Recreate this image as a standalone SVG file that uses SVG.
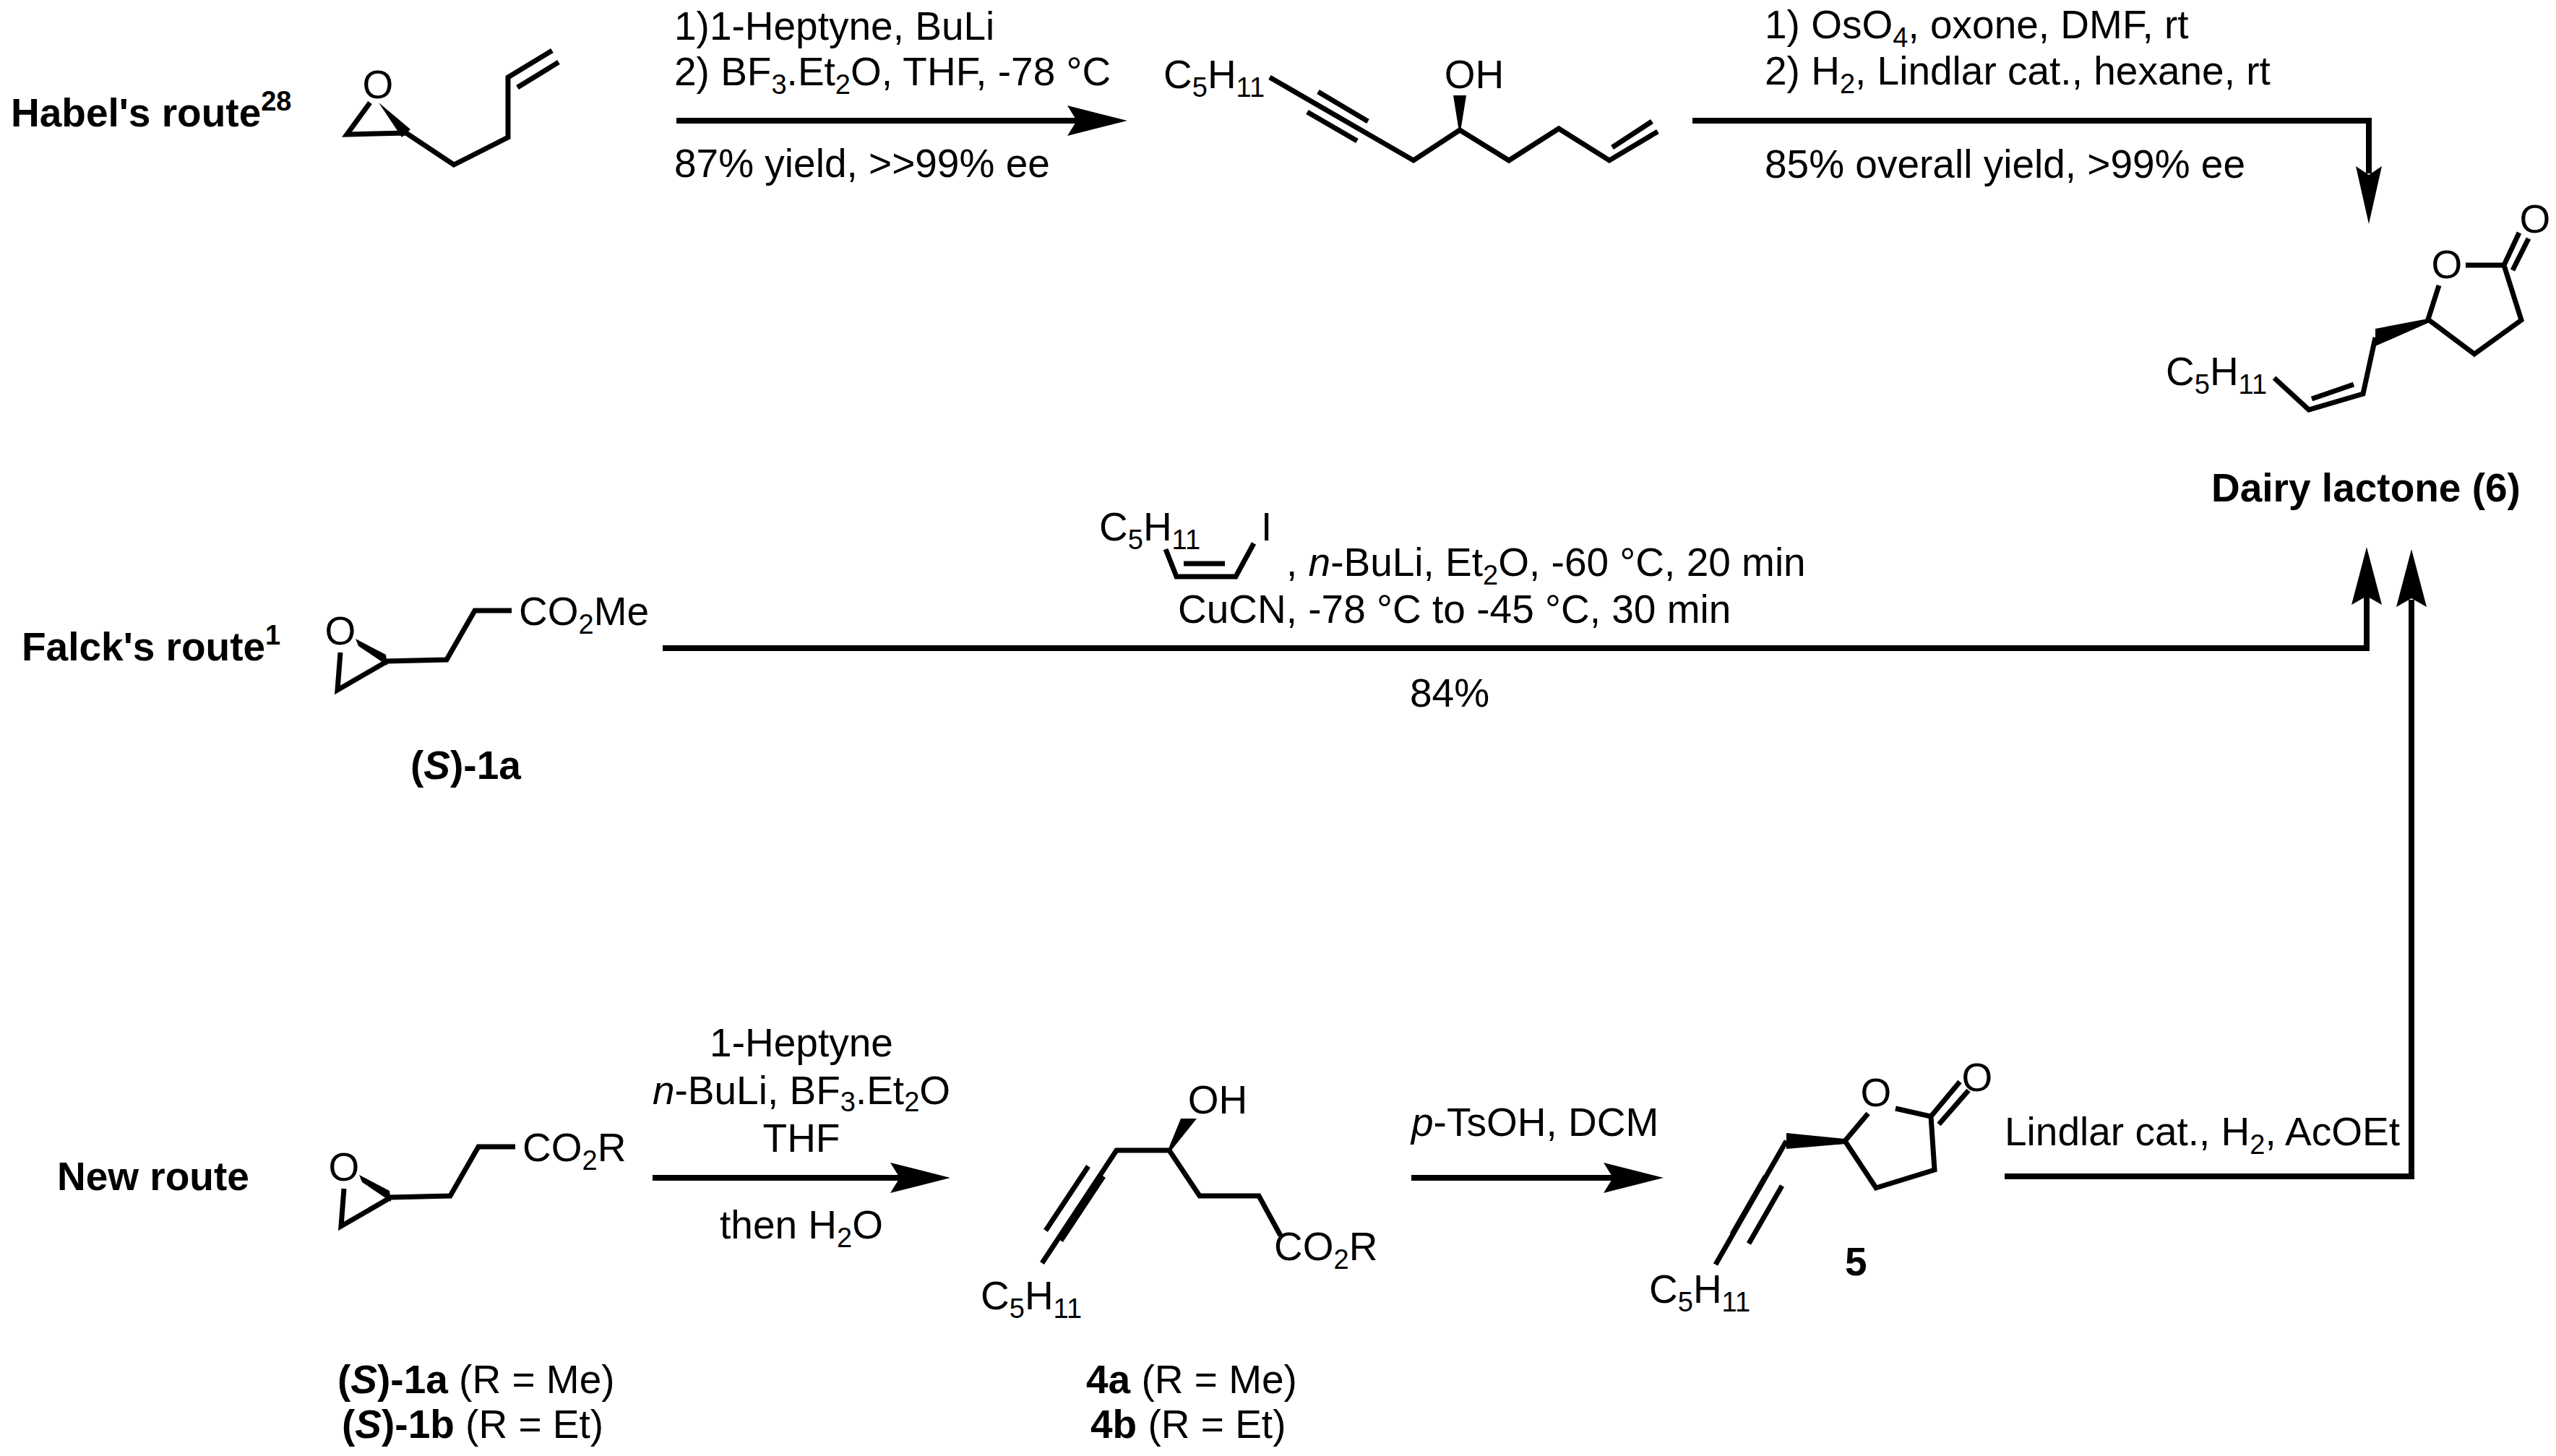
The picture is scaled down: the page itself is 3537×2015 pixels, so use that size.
<svg xmlns="http://www.w3.org/2000/svg" width="3537" height="2015" viewBox="0 0 3537 2015">
<style>
text{font-family:"Liberation Sans",Arial,sans-serif;font-size:55px;fill:#000}
.b{font-weight:bold}
.s{font-size:38px}
.bond{fill:none;stroke:#000;stroke-width:7;stroke-linejoin:miter;stroke-linecap:butt}
.arr{fill:none;stroke:#000;stroke-width:8}
.w{fill:#000}
</style>
<rect width="3537" height="2015" fill="#fff"/>

<!-- Labels -->
<g id="label-habel"><text class="b" x="15" y="175">Habel's route<tspan class="s" dy="-22">28</tspan></text></g>
<g id="label-falck"><text class="b" x="30" y="914">Falck's route<tspan class="s" dy="-22">1</tspan></text></g>
<g id="label-new"><text class="b" x="79" y="1647">New route</text></g>

<!-- Habel epoxide -->
<g id="habel-epoxide">
<text x="523" y="136" text-anchor="middle">O</text>
<path class="bond" d="M512,142 L480,186 L562,184 L628,228 L703,190 L703,107 L764,70 M716,121 L773,86"/>
<polygon class="w" points="524,142 556,190 568,179"/>
</g>

<!-- Habel intermediate -->
<g id="habel-intermediate">
<text x="1610" y="122">C<tspan class="s" dy="12">5</tspan><tspan dy="-12">H</tspan><tspan class="s" dy="12">11</tspan></text>
<text x="2040" y="122" text-anchor="middle">OH</text>
<path class="bond" d="M1757,107 L1956,222 L2020,180 L2088,222 L2157,178 L2227,222 L2294,182 M1824,127 L1893,168 M1809,155 L1878,195 M2231,204 L2286,168"/>
<polygon class="w" points="2011,132 2029,132 2021,182 2019,182"/>
</g>

<!-- Dairy lactone -->
<g id="dairy-lactone">
<text x="3386" y="385" text-anchor="middle">O</text>
<text x="3508" y="322" text-anchor="middle">O</text>
<path class="bond" d="M3412,367 L3465,367 L3489,443 L3424,490 L3360,442 L3375,395 M3465,367 L3486,322 M3477,374 L3499,330"/>
<polygon class="w" points="3360,441 3287,455 3287,479 3362,446"/>
<path class="bond" d="M3287,467 L3270,545 L3195,567 L3147,523 M3199,552 L3257,532"/>
<text x="2997" y="533">C<tspan class="s" dy="12">5</tspan><tspan dy="-12">H</tspan><tspan class="s" dy="12">11</tspan></text>
<text class="b" x="3060" y="694">Dairy lactone (6)</text>
</g>

<!-- Falck epoxide (S)-1a -->
<g id="falck-epoxide">
<text x="471" y="892" text-anchor="middle">O</text>
<path class="bond" d="M471,903 L467,955 L536,915 L618,913 L657,845 L708,845"/>
<polygon class="w" points="492,884 496,894 536,921 534,906"/>
<text x="718" y="865">CO<tspan class="s" dy="12">2</tspan><tspan dy="-12">Me</tspan></text>
<text class="b" x="568" y="1078">(<tspan font-style="italic">S</tspan>)-1a</text>
</g>

<!-- Vinyl iodide reagent -->
<g id="falck-reagent">
<text x="1521" y="748">C<tspan class="s" dy="12">5</tspan><tspan dy="-12">H</tspan><tspan class="s" dy="12">11</tspan></text>
<text x="1745" y="748">I</text>
<path class="bond" d="M1613,760 L1628,798 L1710,798 L1735,752 M1638,780 L1695,780"/>
<text x="1780" y="797">, <tspan font-style="italic">n</tspan>-BuLi, Et<tspan class="s" dy="12">2</tspan><tspan dy="-12">O, -60 °C, 20 min</tspan></text>
<text x="1630" y="862">CuCN, -78 °C to -45 °C, 30 min</text>
<text x="1951" y="978">84%</text>
</g>

<!-- New route epoxide -->
<g id="new-epoxide">
<g transform="translate(5,742)">
<text x="471" y="892" text-anchor="middle">O</text>
<path class="bond" d="M471,903 L467,955 L536,915 L618,913 L657,845 L708,845"/>
<polygon class="w" points="492,884 496,894 536,921 534,906"/>
<text x="718" y="865">CO<tspan class="s" dy="12">2</tspan><tspan dy="-12">R</tspan></text>
</g>
<text x="467" y="1928"><tspan class="b">(<tspan font-style="italic">S</tspan>)-1a</tspan> (R = Me)</text>
<text x="473" y="1990"><tspan class="b">(<tspan font-style="italic">S</tspan>)-1b</tspan> (R = Et)</text>
</g>

<!-- New route reagents -->
<g id="new-reagents">
<text x="1109" y="1462" text-anchor="middle">1-Heptyne</text>
<text x="1109" y="1528" text-anchor="middle"><tspan font-style="italic">n</tspan>-BuLi, BF<tspan class="s" dy="10">3</tspan><tspan dy="-10">.Et</tspan><tspan class="s" dy="10">2</tspan><tspan dy="-10">O</tspan></text>
<text x="1109" y="1594" text-anchor="middle">THF</text>
<text x="1109" y="1714" text-anchor="middle">then H<tspan class="s" dy="12">2</tspan><tspan dy="-12">O</tspan></text>
</g>

<!-- 4a/4b -->
<g id="compound-4">
<text x="1685" y="1541" text-anchor="middle">OH</text>
<polygon class="w" points="1634,1548 1656,1548 1620,1593 1616,1592"/>
<path class="bond" d="M1442,1748 L1545,1592 L1618,1592 L1660,1655 L1742,1655 L1772,1710 M1468,1717 L1527,1628 M1447,1703 L1506,1614"/>
<text x="1357" y="1812">C<tspan class="s" dy="12">5</tspan><tspan dy="-12">H</tspan><tspan class="s" dy="12">11</tspan></text>
<text x="1763" y="1744">CO<tspan class="s" dy="12">2</tspan><tspan dy="-12">R</tspan></text>
<text x="1503" y="1928"><tspan class="b">4a</tspan> (R = Me)</text>
<text x="1509" y="1990"><tspan class="b">4b</tspan> (R = Et)</text>
</g>

<!-- Lactone 5 -->
<g id="lactone-5">
<text x="2596" y="1531" text-anchor="middle">O</text>
<text x="2736" y="1510" text-anchor="middle">O</text>
<path class="bond" d="M2623,1534 L2672,1545 L2677,1619 L2596,1644 L2553,1579 L2585,1541 M2672,1545 L2712,1497 M2683,1556 L2724,1509"/>
<polygon class="w" points="2553,1576 2472,1568 2472,1590 2555,1583"/>
<path class="bond" d="M2472,1579 L2374,1750 M2466,1641 L2420,1721 M2443,1628 L2397,1708"/>
<text x="2282" y="1803">C<tspan class="s" dy="12">5</tspan><tspan dy="-12">H</tspan><tspan class="s" dy="12">11</tspan></text>
<text class="b" x="2553" y="1765">5</text>
</g>

<!-- Connectors -->
<g id="connectors">
<g id="arrow-habel-1">
<line class="arr" x1="936" y1="167" x2="1490" y2="167"/>
<polygon class="w" points="1560,167 1477,146 1490,167 1477,188"/>
<text x="933" y="55">1)1-Heptyne, BuLi</text>
<text x="933" y="118">2) BF<tspan class="s" dy="12">3</tspan><tspan dy="-12">.Et</tspan><tspan class="s" dy="12">2</tspan><tspan dy="-12">O, THF, -78 °C</tspan></text>
<text x="933" y="245">87% yield, &gt;&gt;99% ee</text>
</g>
<g id="arrow-habel-2">
<path class="arr" d="M2342,167 H3278 V240"/>
<polygon class="w" points="3278,310 3260,230 3278,242 3296,230"/>
<text x="2442" y="53">1) OsO<tspan class="s" dy="12">4</tspan><tspan dy="-12">, oxone, DMF, rt</tspan></text>
<text x="2442" y="117">2) H<tspan class="s" dy="12">2</tspan><tspan dy="-12">, Lindlar cat., hexane, rt</tspan></text>
<text x="2442" y="246">85% overall yield, &gt;99% ee</text>
</g>
<g id="arrow-falck">
<path class="arr" d="M917,897 H3275 V825"/>
<polygon class="w" points="3275,757 3254,837 3275,825 3296,837"/>
</g>
<g id="arrow-new-1">
<line class="arr" x1="903" y1="1630" x2="1245" y2="1630"/>
<polygon class="w" points="1315,1630 1232,1609 1245,1630 1232,1651"/>
</g>
<g id="arrow-new-2">
<line class="arr" x1="1953" y1="1630" x2="2232" y2="1630"/>
<polygon class="w" points="2302,1630 2219,1609 2232,1630 2219,1651"/>
<text x="1953" y="1572"><tspan font-style="italic">p</tspan>-TsOH, DCM</text>
</g>
<g id="arrow-new-3">
<path class="arr" d="M2774,1628 H3337 V830"/>
<polygon class="w" points="3337,760 3316,840 3337,828 3358,840"/>
<text x="2774" y="1585">Lindlar cat., H<tspan class="s" dy="12">2</tspan><tspan dy="-12">, AcOEt</tspan></text>
</g>
</g>
</svg>
